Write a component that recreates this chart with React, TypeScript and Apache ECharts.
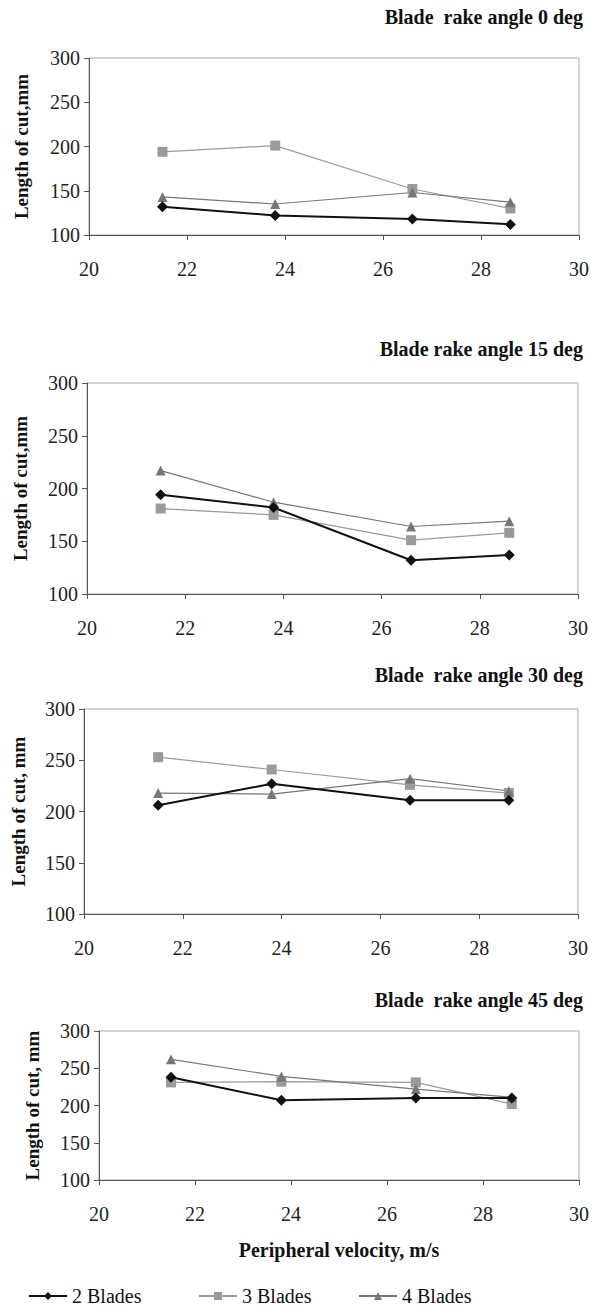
import React, { useEffect, useRef } from "react";
import * as echarts from "echarts";

const velocity = [21.5, 23.8, 26.6, 28.6];
const titles = [
  "Blade  rake angle 0 deg",
  "Blade rake angle 15 deg",
  "Blade  rake angle 30 deg",
  "Blade  rake angle 45 deg",
];
const yNames = ["Length of cut,mm", "Length of cut,mm", "Length of cut, mm", "Length of cut, mm"];
const seriesNames = ["2 Blades", "3 Blades", "4 Blades"];

const blades2 = [
  [132, 122, 118, 112],
  [194, 182, 132, 137],
  [206, 227, 211, 211],
  [238, 207, 210, 210],
];
const blades3 = [
  [194, 201, 152, 130],
  [181, 175, 151, 158],
  [253, 241, 226, 218],
  [231, 232, 231, 202],
];
const blades4 = [
  [143, 135, 148, 137],
  [217, 187, 164, 169],
  [218, 217, 232, 220],
  [262, 239, 222, 211],
];
const xTicks = { min: 20, max: 30, interval: 2 };
const yTicks = { min: 100, max: 300, interval: 50 };

const FONT = "Liberation Serif";

const grids = [
  { left: 89, width: 490, top: 58, height: 177, titleY: 18, nameGap: 58 },
  { left: 87, width: 491, top: 383, height: 211, titleY: 350, nameGap: 57 },
  { left: 84, width: 494, top: 709, height: 205, titleY: 676, nameGap: 56 },
  { left: 99, width: 481, top: 1031, height: 149, titleY: 1001, nameGap: 57 },
];

const styles = [
  { color: "#111", symbol: "diamond", size: 11, width: 2 },
  { color: "#9a9a9a", symbol: "rect", size: 10, width: 1.2 },
  { color: "#777", symbol: "triangle", size: 10, width: 1.2 },
];

export default function App() {
  const ref = useRef<HTMLDivElement>(null);
  useEffect(() => {
    if (!ref.current) return;
    const chart = echarts.init(ref.current, null, { renderer: "svg" });
    const data = [blades2, blades3, blades4];
    const series: any[] = [];
    grids.forEach((_, gi) => {
      data.forEach((d, si) => {
        const st = styles[si];
        series.push({
          type: "line",
          name: seriesNames[si],
          xAxisIndex: gi,
          yAxisIndex: gi,
          data: velocity.map((v, i) => [v, d[gi][i]]),
          symbol: st.symbol,
          symbolSize: st.size,
          lineStyle: { color: st.color, width: st.width },
          itemStyle: { color: st.color },
          z: si === 0 ? 3 : 2,
        });
      });
    });
    const legends = [28, 198, 358].map((l, i) => ({
      left: l,
      top: 1286,
      data: [seriesNames[i]],
      itemWidth: 38,
      itemHeight: 10,
      itemGap: 4,
      padding: 0,
      textStyle: { fontFamily: FONT, fontSize: 20, color: "#111", padding: [0, 0, 0, 0] },
      selectedMode: false,
    }));
    chart.setOption({
      animation: false,
      backgroundColor: "#fff",
      textStyle: { fontFamily: FONT },
      legend: legends,
      grid: grids.map((g) => ({
        left: g.left,
        top: g.top,
        width: g.width,
        height: g.height,
        show: true,
        borderColor: "#aaa",
        borderWidth: 1,
      })),
      xAxis: grids.map((g, gi) => ({
        type: "value",
        gridIndex: gi,
        min: xTicks.min,
        max: xTicks.max,
        interval: xTicks.interval,
        splitLine: { show: false },
        axisLine: { lineStyle: { color: "#555", width: 1 } },
        axisTick: { length: 5, lineStyle: { color: "#555" } },
        axisLabel: { fontFamily: FONT, fontSize: 20, color: "#222", margin: 24 },
        name: gi === 3 ? "Peripheral velocity, m/s" : "",
        nameLocation: "middle",
        nameGap: 60,
        nameTextStyle: { fontFamily: FONT, fontSize: 20, fontWeight: "bold", color: "#111" },
      })),
      yAxis: grids.map((g, gi) => ({
        type: "value",
        gridIndex: gi,
        min: yTicks.min,
        max: yTicks.max,
        interval: yTicks.interval,
        splitLine: { show: false },
        axisLine: { show: true, lineStyle: { color: "#555", width: 1 } },
        axisTick: { show: true, length: 5, lineStyle: { color: "#555" } },
        axisLabel: { fontFamily: FONT, fontSize: 20, color: "#222", margin: 9 },
        name: yNames[gi],
        nameLocation: "middle",
        nameGap: g.nameGap,
        nameTextStyle: { fontFamily: FONT, fontSize: 19, fontWeight: "bold", color: "#111" },
      })),
      graphic: grids.map((g, gi) => ({
        type: "text",
        right: 9,
        top: g.titleY - 11,
        style: {
          text: titles[gi],
          fontFamily: FONT,
          fontSize: 20,
          fontWeight: "bold",
          fill: "#111",
        },
      })),
      series,
    });
    return () => chart.dispose();
  }, []);
  return (
    <div
      ref={ref}
      style={{ position: "absolute", left: 0, top: 0, width: 592, height: 1307 }}
    />
  );
}
